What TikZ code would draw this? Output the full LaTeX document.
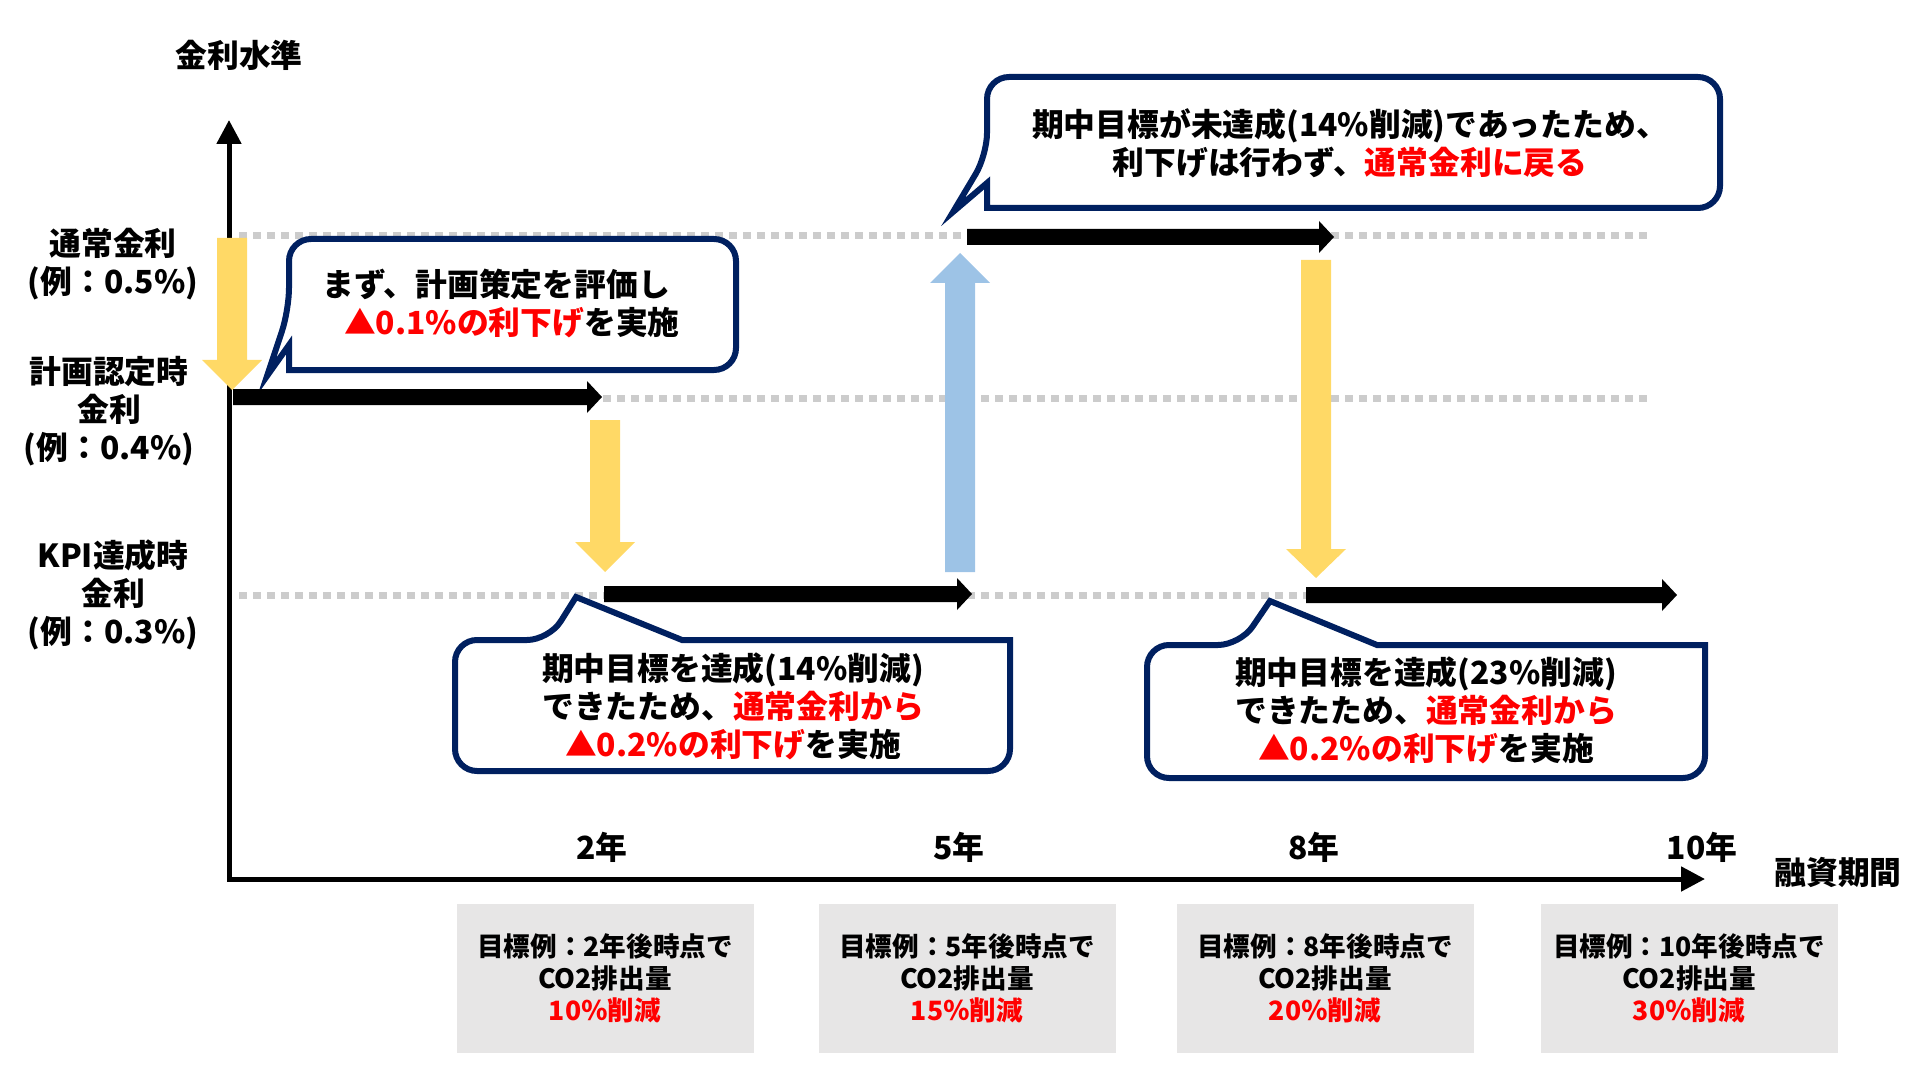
\documentclass[tikz,border=0pt]{standalone}
\usepackage{fontspec}
\setmainfont{Noto Sans CJK JP}
\usetikzlibrary{arrows.meta,positioning}
\definecolor{navy}{HTML}{002060}
\definecolor{kred}{HTML}{FF0000}
\definecolor{kyell}{HTML}{FFD966}
\definecolor{kblue}{HTML}{9DC3E6}
\definecolor{kgrid}{HTML}{CCCCCC}
\definecolor{kbox}{HTML}{E7E6E6}
\newcommand{\redtxt}[1]{\textcolor{kred}{#1}}
% black rate bar: y, from x, to x
\newcommand{\ratebar}[3]{\fill (#2,#1-8) -- ({#3-15},#1-8) -- ({#3-15},#1-16) -- (#3,#1)
  -- ({#3-15},#1+16) -- ({#3-15},#1+8) -- (#2,#1+8) -- cycle;}
% vertical block arrow: colour, x, from y, head start y, tip y
\newcommand{\vblock}[5]{\fill[#1] ({#2-15},#3) -- ({#2+15},#3) -- ({#2+15},#4) -- ({#2+30},#4)
  -- (#2,#5) -- ({#2-30},#4) -- ({#2-15},#4) -- cycle;}
\tikzset{
  every node/.style={font=\bfseries\fontsize{15.9}{19}\selectfont, inner sep=0pt},
  lbl/.style={align=center},
  sml/.style={font=\bfseries\fontsize{13.3}{16}\selectfont},
  axis/.style={{Triangle[length=12pt,width=12pt]}-{Triangle[length=12pt,width=12pt]}, line width=2.5pt},
  grid/.style={draw=kgrid, line width=3.5pt, dash pattern=on 4pt off 3pt},
  goal/.style={sml, fill=kbox, minimum width=148.5pt, minimum height=74.5pt, align=center},
  balloon/.style={draw=navy, fill=white, line width=3pt},
}

\begin{document}
\begin{tikzpicture}[x=0.5pt, y=-0.5pt]
\useasboundingbox (0,0) rectangle (1920,1080);

% axes
\coordinate (ytip) at (229,120);
\coordinate (orig) at (229,879);
\coordinate (xtip) at (1705,879);
\draw[axis] (ytip) -- (orig) -- (xtip);
\node[lbl] (ylab) at (239,55) {金利水準};
\node[lbl] (xlab) at (1838,872) {融資期間};

% rate levels
\foreach \lv in {236,398,595}
  \draw[grid] (239,\lv) -- (1647,\lv);
\node[lbl] (lvnorm) at (113,264) {通常金利\\(例：0.5\%)};
\node[lbl] (lvplan) at (109,411) {計画認定時\\金利\\(例：0.4\%)};
\node[lbl] (lvkpi) at (113,595) {KPI達成時\\金利\\(例：0.3\%)};

% years and targets
\foreach \yr/\xx in {2/602, 5/959, 8/1314, 10/1702}
  \node (yr\yr) at (\xx,847) {\yr 年};
\foreach \yr/\xx/\pc in {2/605/10, 5/967/15, 8/1325/20, 10/1689/30}
  \node[goal] (goal\yr) at (\xx,978) {目標例：\yr 年後時点で\\CO2排出量\\\redtxt{\pc ％削減}};

% callouts
\draw[balloon] (267,376) -- (289,345) -- (289,370) [rounded corners=11pt] -- (736,370)
  -- (736,239) -- (289,239) -- (289,310) [sharp corners] -- cycle;
\node[lbl] (msg1) at (496,303) {まず、計画策定を評価し\\　\redtxt{▲0.1\%の利下げ}を実施};

\draw[balloon] (953,212) -- (987,183) -- (987,208) [rounded corners=11pt] -- (1720,208)
  -- (1720,77) -- (987,77) -- (987,155) [sharp corners] -- cycle;
\node[lbl] (msg2) at (1350,143) {期中目標が未達成(14\%削減)であったため、\\利下げは行わず、\redtxt{通常金利に戻る}};

\draw[balloon] (576,597) -- (682,640) -- (1010,640) [rounded corners=11pt] -- (1010,771)
  -- (455,771) -- (455,640) -- (549,640) [sharp corners] -- cycle;
\node[lbl] (msg3) at (733,706) {期中目標を達成(14\%削減)\\できたため、\redtxt{通常金利から}\\\redtxt{▲0.2\%の利下げ}を実施};

\draw[balloon] (1270,601) -- (1377,645) -- (1705,645) [rounded corners=11pt] -- (1705,778)
  -- (1147,778) -- (1147,645) -- (1240,645) [sharp corners] -- cycle;
\node[lbl] (msg4) at (1426,710) {期中目標を達成(23\%削減)\\できたため、\redtxt{通常金利から}\\\redtxt{▲0.2\%の利下げ}を実施};

% rate path
\ratebar{397}{233}{602}
\ratebar{594}{604}{972}
\ratebar{237}{967}{1334}
\ratebar{595}{1306}{1677}

% moves between levels
\vblock{kyell}{232}{238}{360}{390}
\vblock{kyell}{605}{420}{542}{572}
\vblock{kblue}{960}{572}{283}{253}
\vblock{kyell}{1316}{260}{549}{578}

\end{tikzpicture}
\end{document}
